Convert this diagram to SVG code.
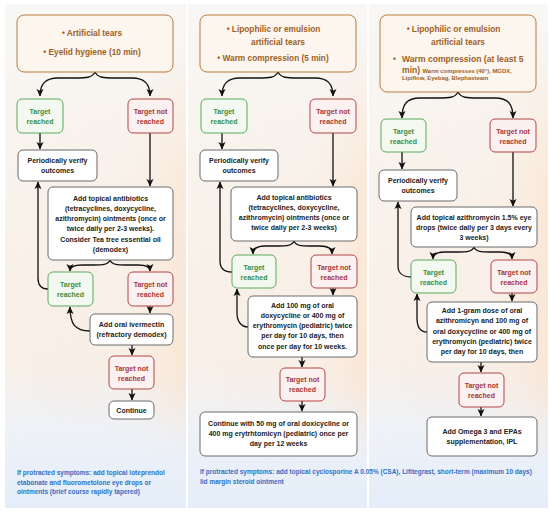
<svg xmlns="http://www.w3.org/2000/svg" width="550" height="512" viewBox="0 0 550 512">
<defs>
<linearGradient id="bgv" x1="0" y1="0" x2="0" y2="1">
<stop offset="0" stop-color="#f8f7f5"/>
<stop offset="0.45" stop-color="#f9f2eb"/>
<stop offset="0.72" stop-color="#f8f0e9"/>
<stop offset="0.85" stop-color="#eef2f8"/>
<stop offset="1" stop-color="#e4edf9"/>
</linearGradient>
<linearGradient id="bgh" x1="0" y1="0" x2="1" y2="0">
<stop offset="0" stop-color="#fbe3cc" stop-opacity="0"/>
<stop offset="0.7" stop-color="#fbe3cc" stop-opacity="0.1"/>
<stop offset="1" stop-color="#fbdcc0" stop-opacity="0.45"/>
</linearGradient>
<linearGradient id="fade" x1="0" y1="0" x2="0" y2="1">
<stop offset="0.08" stop-color="#fff" stop-opacity="0"/>
<stop offset="0.35" stop-color="#fff" stop-opacity="1"/>
<stop offset="0.75" stop-color="#fff" stop-opacity="1"/>
<stop offset="0.9" stop-color="#fff" stop-opacity="0"/>
</linearGradient>
<mask id="m1"><rect x="0" y="0" width="550" height="512" fill="url(#fade)"/></mask>
<marker id="ah" markerUnits="userSpaceOnUse" markerWidth="8" markerHeight="8" refX="7" refY="4" orient="auto">
<path d="M0,0.5 L7.5,4 L0,7.5 L1.8,4 z" fill="#111"/>
</marker>
</defs>
<style>
.panel{fill:url(#bgv)}
.ov{fill:url(#bgh)}
.top{fill:#fcf6ef;stroke:#b97b3f;stroke-width:1}
.tt{font-family:"Liberation Sans",Arial,sans-serif;font-weight:bold;font-size:8.3px;fill:#9d6126}
.ts{font-family:"Liberation Sans",Arial,sans-serif;font-weight:bold;font-size:5.9px;fill:#9d6126}
.g{fill:#f3f9f1;stroke:#5ca95c;stroke-width:1}
.r{fill:#fbf1f0;stroke:#b14747;stroke-width:1}
.n{fill:#ffffff;stroke:#6a6a6a;stroke-width:1}
.gt{font-family:"Liberation Sans",Arial,sans-serif;font-weight:bold;font-size:7px;fill:#3e8c3e;text-anchor:middle}
.rt{font-family:"Liberation Sans",Arial,sans-serif;font-weight:bold;font-size:7px;fill:#a83535;text-anchor:middle}
.nt{font-family:"Liberation Sans",Arial,sans-serif;font-weight:bold;font-size:7px;fill:#222;text-anchor:middle}
.ft{font-family:"Liberation Sans",Arial,sans-serif;font-weight:bold;font-size:6.5px;fill:#2f70c6}
.c{fill:none;stroke:#111;stroke-width:1.3;marker-end:url(#ah)}
</style>
<rect width="550" height="512" fill="#ffffff"/>
<g id="panels">
<rect class="panel" x="5" y="4" width="181" height="504"/>
<rect class="ov" x="5" y="4" width="181" height="504" mask="url(#m1)"/>
<rect class="panel" x="188" y="4" width="179" height="504"/>
<rect class="ov" x="188" y="4" width="179" height="504" mask="url(#m1)"/>
<rect class="panel" x="369" y="4" width="179" height="504"/>
<rect class="ov" x="369" y="4" width="179" height="504" mask="url(#m1)"/>
</g>
<g id="connectors">
<path class="c" d="M95,72 C92,78 86,78 75,78 L58,78 C45,78 40,84 40,96"/>
<path class="c" d="M95,72 C98,78 104,78 115,78 L132,78 C145,78 150,84 150,96"/>
<path class="c" d="M40,133 L40,149"/>
<path class="c" d="M150,133 L150,186"/>
<path class="c" d="M110,260 C108,265 102,265 94,265 L82,265 C74,265 70,267 70,271"/>
<path class="c" d="M110,260 C112,265 118,265 126,265 L138,265 C146,265 150,267 150,271"/>
<path class="c" d="M48,289 C41,289 38,285 38,278 L38,182"/>
<path class="c" d="M150,306 L150,313"/>
<path class="c" d="M90,331 C75,331 70,324 70,307"/>
<path class="c" d="M132,345 L132,355"/>
<path class="c" d="M132,389 L132,400"/>

<path class="c" d="M278,72 C275,78 269,78 258,78 L240,78 C227,78 222,84 222,96"/>
<path class="c" d="M278,72 C281,78 287,78 298,78 L315,78 C328,78 333,84 333,96"/>
<path class="c" d="M222,133 L222,149"/>
<path class="c" d="M333,133 L333,186"/>
<path class="c" d="M294,241 C292,246 286,246 278,246 L265,246 C257,246 253,248 253,254"/>
<path class="c" d="M294,241 C296,246 302,246 310,246 L320,246 C328,246 332,248 332,254"/>
<path class="c" d="M232,272 C224,272 220,268 220,261 L220,182"/>
<path class="c" d="M333,288 L333,295"/>
<path class="c" d="M248,327 C241,327 237,321 237,313 L237,289"/>
<path class="c" d="M302,357 L302,367"/>
<path class="c" d="M302,401 L302,411"/>

<path class="c" d="M458,92 C455,98 449,98 438,98 L420,98 C407,98 402,104 402,118"/>
<path class="c" d="M458,92 C461,98 467,98 478,98 L495,98 C508,98 513,104 513,118"/>
<path class="c" d="M402,152 L402,169"/>
<path class="c" d="M513,152 L513,206"/>
<path class="c" d="M474,247 C472,252 466,252 458,252 L445,252 C437,252 433,254 433,259"/>
<path class="c" d="M474,247 C476,252 482,252 490,252 L500,252 C508,252 512,254 512,259"/>
<path class="c" d="M411,277 C403,277 398,273 398,266 L398,202"/>
<path class="c" d="M512,293 L512,301"/>
<path class="c" d="M427,332 C420,332 417,326 417,318 L417,294"/>
<path class="c" d="M481,362 L481,372"/>
<path class="c" d="M481,407 L481,416"/>
</g>

<g id="t1">
<rect class="top" x="17" y="15" width="156" height="57" rx="7"/>
<text class="tt" x="92" y="36" text-anchor="middle">•  Artificial tears</text>
<text class="tt" x="92" y="55" text-anchor="middle">• Eyelid hygiene (10 min)</text>
</g>
<g id="g1a"><rect class="g" x="17" y="99" width="46" height="34" rx="5"/><text class="gt" x="40" y="113.5">Target</text><text class="gt" x="40" y="123.5">reached</text></g>
<g id="r1a"><rect class="r" x="128" y="99" width="45" height="34" rx="5"/><text class="rt" x="150.5" y="113.5">Target not</text><text class="rt" x="150.5" y="123.5">reached</text></g>
<g id="p1"><rect class="n" x="18" y="150" width="79" height="31" rx="5"/><text class="nt" x="57.5" y="162.5">Periodically verify</text><text class="nt" x="57.5" y="173">outcomes</text></g>
<g id="a1"><rect class="n" x="48" y="187" width="125" height="73" rx="5"/>
<text class="nt" x="110.5" y="200.5">Add topical antibiotics</text>
<text class="nt" x="110.5" y="210.8">(tetracyclines, doxycycline,</text>
<text class="nt" x="110.5" y="221.1">azithromycin) ointments (once or</text>
<text class="nt" x="110.5" y="231.4">twice daily per 2-3 weeks).</text>
<text class="nt" x="110.5" y="241.7">Consider Tea tree essential oil</text>
<text class="nt" x="110.5" y="252">(demodex)</text>
</g>
<g id="g1b"><rect class="g" x="48" y="272" width="45" height="34" rx="5"/><text class="gt" x="70.5" y="286.5">Target</text><text class="gt" x="70.5" y="296.5">reached</text></g>
<g id="r1b"><rect class="r" x="128" y="272" width="45" height="34" rx="5"/><text class="rt" x="150.5" y="286.5">Target not</text><text class="rt" x="150.5" y="296.5">reached</text></g>
<g id="iv1"><rect class="n" x="90" y="314" width="83" height="31" rx="5"/><text class="nt" x="131.5" y="326.5">Add oral ivermectin</text><text class="nt" x="131.5" y="337">(refractory demodex)</text></g>
<g id="r1c"><rect class="r" x="109" y="356" width="45" height="33" rx="5"/><text class="rt" x="131.5" y="370.5">Target not</text><text class="rt" x="131.5" y="380.5">reached</text></g>
<g id="c1"><rect class="n" x="109" y="401" width="45" height="18" rx="5"/><text class="nt" x="131.5" y="412.5">Continue</text></g>
<g id="f1">
<text class="ft" x="17" y="475">If protracted symptoms: add topical loteprendol</text>
<text class="ft" x="17" y="484.5">etabonate and fluorometolone eye drops or</text>
<text class="ft" x="17" y="494">ointments (brief course rapidly tapered)</text>
</g>

<g id="t2">
<rect class="top" x="200" y="15" width="156" height="57" rx="7"/>
<text class="tt" x="273.5" y="32" text-anchor="middle">• Lipophilic or emulsion</text>
<text class="tt" x="278" y="45" text-anchor="middle">artificial tears</text>
<text class="tt" x="273" y="61" text-anchor="middle">• Warm compression (5 min)</text>
</g>
<g id="g2a"><rect class="g" x="201" y="99" width="46" height="34" rx="5"/><text class="gt" x="224" y="113.5">Target</text><text class="gt" x="224" y="123.5">reached</text></g>
<g id="r2a"><rect class="r" x="310" y="99" width="46" height="34" rx="5"/><text class="rt" x="333" y="113.5">Target not</text><text class="rt" x="333" y="123.5">reached</text></g>
<g id="p2"><rect class="n" x="200" y="150" width="78" height="31" rx="5"/><text class="nt" x="239" y="162.5">Periodically verify</text><text class="nt" x="239" y="173">outcomes</text></g>
<g id="a2"><rect class="n" x="231" y="187" width="126" height="54" rx="5"/>
<text class="nt" x="294" y="199.5">Add topical antibiotics</text>
<text class="nt" x="294" y="209.8">(tetracyclines, doxycycline,</text>
<text class="nt" x="294" y="220.1">azithromycin) ointments (once or</text>
<text class="nt" x="294" y="230.4">twice daily per 2-3 weeks)</text>
</g>
<g id="g2b"><rect class="g" x="232" y="255" width="44" height="33" rx="5"/><text class="gt" x="254" y="269.5">Target</text><text class="gt" x="254" y="279.5">reached</text></g>
<g id="r2b"><rect class="r" x="311" y="255" width="46" height="33" rx="5"/><text class="rt" x="334" y="269.5">Target not</text><text class="rt" x="334" y="279.5">reached</text></g>
<g id="d2"><rect class="n" x="248" y="296" width="109" height="61" rx="5"/>
<text class="nt" x="302.5" y="307.5">Add 100 mg of oral</text>
<text class="nt" x="302.5" y="317.8">doxycycline or 400 mg of</text>
<text class="nt" x="302.5" y="328.1">erythromycin (pediatric) twice</text>
<text class="nt" x="302.5" y="338.4">per day for 10 days, then</text>
<text class="nt" x="302.5" y="348.7">once per day for 10 weeks.</text>
</g>
<g id="r2c"><rect class="r" x="280" y="368" width="45" height="33" rx="5"/><text class="rt" x="302.5" y="381.5">Target not</text><text class="rt" x="302.5" y="391.5">reached</text></g>
<g id="f2n"><rect class="n" x="200" y="412" width="157" height="44" rx="5"/>
<text class="nt" x="278.5" y="425.5">Continue with 50 mg of oral doxicycline or</text>
<text class="nt" x="278.5" y="435.8">400 mg erytrhtomicyn (pediatric) once per</text>
<text class="nt" x="278.5" y="446.1">day per 12 weeks</text>
</g>
<g id="f2">
<text class="ft" x="200" y="474.3">If protracted symptoms: add topical cyclosporine A 0.05% (CSA), Lifitegrast, short-term (maximum 10 days)</text>
<text class="ft" x="200" y="484">lid margin steroid ointment</text>
</g>

<g id="t3">
<rect class="top" x="380" y="15" width="156" height="77" rx="7"/>
<text class="tt" x="453.5" y="32" text-anchor="middle">• Lipophilic or emulsion</text>
<text class="tt" x="458" y="45" text-anchor="middle">artificial tears</text>
<text class="tt" x="393" y="62">•</text>
<text class="tt" x="402" y="62" style="font-size:8.6px">Warm compression (at least 5</text>
<text class="tt" x="402" y="73" style="font-size:8.6px">min) <tspan class="ts">Warm compresses (40°), MGDX,</tspan></text>
<text class="ts" x="402" y="79.5">Lipiflow, Eyebag, Blephasteam</text>
</g>
<g id="g3a"><rect class="g" x="381" y="119" width="45" height="33" rx="5"/><text class="gt" x="403.5" y="133.5">Target</text><text class="gt" x="403.5" y="143.5">reached</text></g>
<g id="r3a"><rect class="r" x="490" y="119" width="46" height="33" rx="5"/><text class="rt" x="513" y="133.5">Target not</text><text class="rt" x="513" y="143.5">reached</text></g>
<g id="p3"><rect class="n" x="379" y="170" width="78" height="31" rx="5"/><text class="nt" x="418" y="182.5">Periodically verify</text><text class="nt" x="418" y="192.5">outcomes</text></g>
<g id="z3"><rect class="n" x="411" y="207" width="126" height="40" rx="5"/>
<text class="nt" x="474" y="219.5">Add topical azithromycin 1.5% eye</text>
<text class="nt" x="474" y="229.5">drops (twice daily per 3 days every</text>
<text class="nt" x="474" y="239.5">3 weeks)</text>
</g>
<g id="g3b"><rect class="g" x="411" y="260" width="45" height="33" rx="5"/><text class="gt" x="433.5" y="274.5">Target</text><text class="gt" x="433.5" y="284.5">reached</text></g>
<g id="r3b"><rect class="r" x="491" y="260" width="46" height="33" rx="5"/><text class="rt" x="514" y="274.5">Target not</text><text class="rt" x="514" y="284.5">reached</text></g>
<g id="d3"><rect class="n" x="427" y="302" width="110" height="60" rx="5"/>
<text class="nt" x="482" y="312.8">Add 1-gram dose of oral</text>
<text class="nt" x="482" y="323.2">azithromicyn and 100 mg of</text>
<text class="nt" x="482" y="333.6">oral doxycycline or 400 mg of</text>
<text class="nt" x="482" y="344">erythromycin (pediatric) twice</text>
<text class="nt" x="482" y="354.4">per day for 10 days, then</text>
</g>
<g id="r3c"><rect class="r" x="459" y="373" width="45" height="34" rx="5"/><text class="rt" x="481.5" y="387.5">Target not</text><text class="rt" x="481.5" y="397.5">reached</text></g>
<g id="o3"><rect class="n" x="427" y="417" width="110" height="39" rx="5"/>
<text class="nt" x="482" y="433.5">Add Omega 3 and EPAs</text>
<text class="nt" x="482" y="443.8">supplementation, IPL</text>
</g>
</svg>
